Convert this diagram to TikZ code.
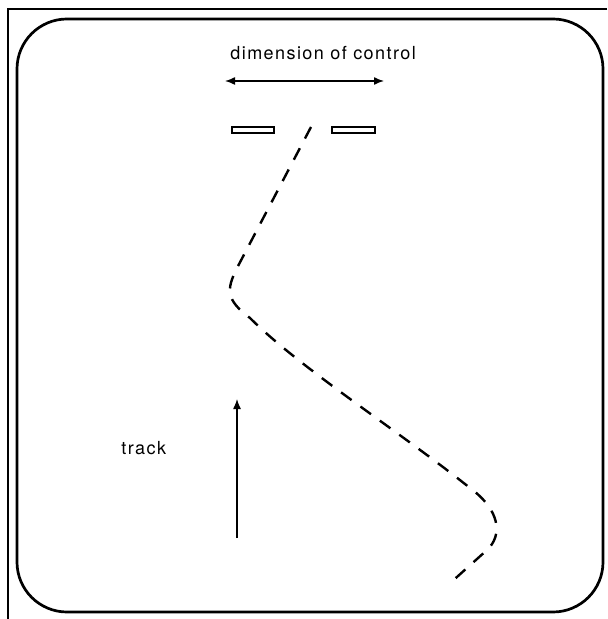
\documentclass[tikz,border=0pt]{standalone}
\usepackage{fontspec}
\setmainfont{TeX Gyre Heros}
\usetikzlibrary{arrows.meta}
\begin{document}
\begin{tikzpicture}[x=0.5pt,y=-0.5pt,
  arrowline/.style={line width=0.7pt,{Latex[length=5pt,width=4pt]}-{Latex[length=5pt,width=4pt]}},
  gauge/.style={line width=0.7pt},
  lbl/.style={inner sep=0pt,anchor=base west,font=\fontsize{9}{11}\selectfont\addfontfeatures{LetterSpace=8}}]
  \useasboundingbox (0,0) rectangle (607,619);
  % frame
  \draw[line width=0.8pt] (607,9) -- (8,9) -- (8,619);
  \draw[line width=1.35pt,rounded corners=25pt] (17,19) rectangle (603,612);
  % control width
  \node[lbl] (dimlabel) at (230,60) {dimension of control};
  \draw[arrowline] (225,81) -- (384,81);
  \draw[gauge] (232,127) rectangle (274,133);
  \draw[gauge] (332,127) rectangle (375,133);
  % path of the vehicle
  \draw[line width=1.2pt,dash pattern=on 6.5pt off 5.5pt]
    (311,127) -- (237,268) .. controls (226,290) and (226,300) .. (250,318)
    .. controls (300,368) and (400,432) .. (470,488)
    .. controls (500,510) and (503,535) .. (487,550) -- (448,585);
  % direction of travel
  \node[lbl] (tracklabel) at (121,454) {track};
  \draw[line width=0.65pt,-{Latex[length=5pt,width=4pt]}] (237,538) -- (237,399);
\end{tikzpicture}
\end{document}
